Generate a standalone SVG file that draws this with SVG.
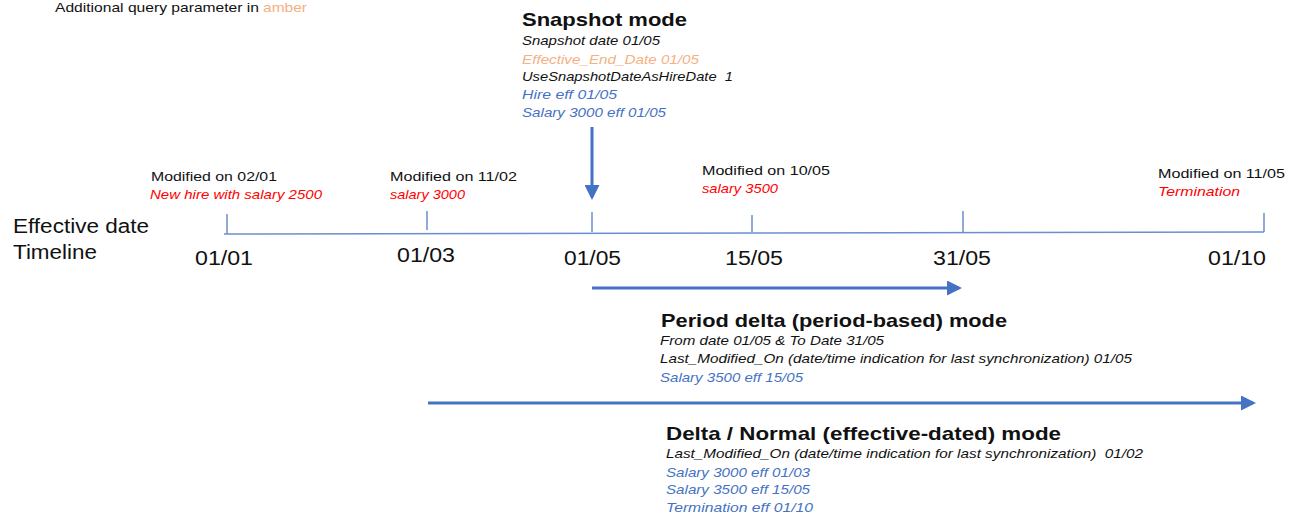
<svg xmlns="http://www.w3.org/2000/svg" width="1296" height="514" viewBox="0 0 1296 514">
<style>
text{font-family:"Liberation Sans",Arial,sans-serif;fill:#111}
.h{font-weight:bold;font-size:19px}
.i{font-style:italic;font-size:13.5px}
.s{font-size:13.5px}
.d{font-size:20px}
.red{fill:#FF0000}
.amb{fill:#F4B183}
.blu{fill:#4472C4}
.tl{stroke:#6B8ED0;stroke-width:1.5;fill:none}
.ar{stroke:#4472C4;stroke-width:3;fill:none}
</style>
<defs>
<marker id="ah" markerWidth="5" markerHeight="5" refX="4" refY="2.5" orient="auto" markerUnits="strokeWidth">
<path d="M0,0 L5,2.5 L0,5 Z" fill="#4472C4"/>
</marker>
</defs>
<rect width="1296" height="514" fill="#FFFFFF"/>
<g id="legend">
<text class="s" x="55" y="12" textLength="204" lengthAdjust="spacingAndGlyphs">Additional query parameter in</text>
<text class="s amb" x="263" y="12" textLength="44" lengthAdjust="spacingAndGlyphs">amber</text>
</g>
<g id="timeline-label">
<text class="d" x="13" y="233" textLength="136" lengthAdjust="spacingAndGlyphs">Effective date</text>
<text class="d" x="13" y="259" textLength="84" lengthAdjust="spacingAndGlyphs">Timeline</text>
</g>
<g id="connectors">
<path class="tl" d="M224,234 L1264,232"/>
<path class="tl" d="M227,214 V234 M427,211 V230 M592,212 V232 M752,215 V232 M963,211 V232 M1264,213 V232"/>
<path class="ar" d="M592,127 V197" marker-end="url(#ah)"/>
<path class="ar" d="M592,288 H959" marker-end="url(#ah)"/>
<path class="ar" d="M428,403 H1253" marker-end="url(#ah)"/>
</g>
<g id="dates">
<text class="d" x="195" y="265" textLength="58" lengthAdjust="spacingAndGlyphs">01/01</text>
<text class="d" x="397" y="262" textLength="58" lengthAdjust="spacingAndGlyphs">01/03</text>
<text class="d" x="564" y="265" textLength="57" lengthAdjust="spacingAndGlyphs">01/05</text>
<text class="d" x="725" y="265" textLength="58" lengthAdjust="spacingAndGlyphs">15/05</text>
<text class="d" x="933" y="265" textLength="58" lengthAdjust="spacingAndGlyphs">31/05</text>
<text class="d" x="1208" y="265" textLength="58" lengthAdjust="spacingAndGlyphs">01/10</text>
</g>
<g id="mod-0201">
<text class="s" x="151" y="181" textLength="126" lengthAdjust="spacingAndGlyphs">Modified on 02/01</text>
<text class="i red" x="150" y="199" textLength="172" lengthAdjust="spacingAndGlyphs">New hire with salary 2500</text>
</g>
<g id="mod-1102">
<text class="s" x="390" y="181" textLength="127" lengthAdjust="spacingAndGlyphs">Modified on 11/02</text>
<text class="i red" x="390" y="199" textLength="75" lengthAdjust="spacingAndGlyphs">salary 3000</text>
</g>
<g id="mod-1005">
<text class="s" x="702" y="175" textLength="128" lengthAdjust="spacingAndGlyphs">Modified on 10/05</text>
<text class="i red" x="702" y="193" textLength="76" lengthAdjust="spacingAndGlyphs">salary 3500</text>
</g>
<g id="mod-1105">
<text class="s" x="1158" y="178" textLength="127" lengthAdjust="spacingAndGlyphs">Modified on 11/05</text>
<text class="i red" x="1158" y="196" textLength="82" lengthAdjust="spacingAndGlyphs">Termination</text>
</g>
<g id="snapshot">
<text class="h" x="522" y="26" textLength="165" lengthAdjust="spacingAndGlyphs">Snapshot mode</text>
<text class="i" x="522" y="45" textLength="138" lengthAdjust="spacingAndGlyphs">Snapshot date 01/05</text>
<text class="i amb" x="522" y="64" textLength="177" lengthAdjust="spacingAndGlyphs">Effective_End_Date 01/05</text>
<text class="i" x="522" y="81" textLength="211" lengthAdjust="spacingAndGlyphs" xml:space="preserve">UseSnapshotDateAsHireDate  1</text>
<text class="i blu" x="522" y="99" textLength="95" lengthAdjust="spacingAndGlyphs">Hire eff 01/05</text>
<text class="i blu" x="522" y="117" textLength="144" lengthAdjust="spacingAndGlyphs">Salary 3000 eff 01/05</text>
</g>
<g id="period">
<text class="h" x="661" y="327" textLength="346" lengthAdjust="spacingAndGlyphs">Period delta (period-based) mode</text>
<text class="i" x="660" y="345" textLength="224" lengthAdjust="spacingAndGlyphs">From date 01/05 &amp; To Date 31/05</text>
<text class="i" x="660" y="363" textLength="472" lengthAdjust="spacingAndGlyphs">Last_Modified_On (date/time indication for last synchronization) 01/05</text>
<text class="i blu" x="660" y="382" textLength="143" lengthAdjust="spacingAndGlyphs">Salary 3500 eff 15/05</text>
</g>
<g id="delta">
<text class="h" x="666" y="440" textLength="395" lengthAdjust="spacingAndGlyphs">Delta / Normal (effective-dated) mode</text>
<text class="i" x="666" y="458" textLength="477" lengthAdjust="spacingAndGlyphs" xml:space="preserve">Last_Modified_On (date/time indication for last synchronization)  01/02</text>
<text class="i blu" x="666" y="477" textLength="144" lengthAdjust="spacingAndGlyphs">Salary 3000 eff 01/03</text>
<text class="i blu" x="666" y="494" textLength="144" lengthAdjust="spacingAndGlyphs">Salary 3500 eff 15/05</text>
<text class="i blu" x="666" y="512" textLength="147" lengthAdjust="spacingAndGlyphs">Termination eff 01/10</text>
</g>
</svg>
